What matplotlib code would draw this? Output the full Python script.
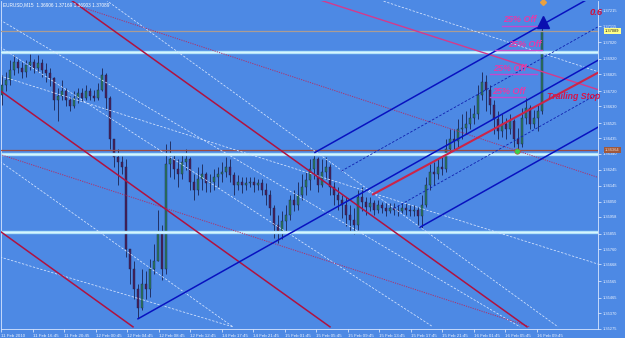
import matplotlib
matplotlib.use('Agg')
import matplotlib.pyplot as plt
import matplotlib.transforms as mtransforms
import numpy as np

# ---------------- data ----------------
first_open = 1.3670
closes = [1.3676, 1.3679, 1.3685, 1.3690, 1.3686, 1.3684, 1.3688, 1.3690, 1.3686, 1.3689,
          1.3685, 1.3683, 1.3680, 1.3667, 1.3669, 1.3672, 1.3667, 1.3663, 1.3668, 1.3671,
          1.3668, 1.3672, 1.3669, 1.3668, 1.3673, 1.3682, 1.3668, 1.3643, 1.3632, 1.3629,
          1.3626, 1.3576, 1.3564, 1.3552, 1.3540, 1.3555, 1.3552, 1.3564, 1.3569, 1.3585,
          1.3564, 1.3628, 1.3631, 1.3625, 1.3622, 1.3629, 1.3631, 1.3617, 1.3612, 1.3619,
          1.3622, 1.3616, 1.3617, 1.3620, 1.3622, 1.3623, 1.3626, 1.3621, 1.3615, 1.3617,
          1.3615, 1.3616, 1.3617, 1.3615, 1.3616, 1.3612, 1.3609, 1.3601, 1.3591, 1.3587,
          1.3593, 1.3597, 1.3606, 1.3603, 1.3609, 1.3614, 1.3618, 1.3625, 1.3631, 1.3615,
          1.3623, 1.3626, 1.3614, 1.3609, 1.3606, 1.3603, 1.3597, 1.3594, 1.3591, 1.3608,
          1.3605, 1.3602, 1.3604, 1.3600, 1.3603, 1.3601, 1.3599, 1.3601, 1.3600, 1.3599,
          1.3601, 1.3600, 1.3599, 1.3600, 1.3596, 1.3603, 1.3615, 1.3623, 1.3622, 1.3626,
          1.3625, 1.3637, 1.3643, 1.3642, 1.3649, 1.3650, 1.3652, 1.3656, 1.3658, 1.3670,
          1.3678, 1.3673, 1.3664, 1.3655, 1.3648, 1.3652, 1.3649, 1.3654, 1.3643, 1.3640,
          1.3656, 1.3662, 1.3652, 1.3656, 1.3660, 1.3709]
highs = [1.3682, 1.3684, 1.3691, 1.3694, 1.3692, 1.3690, 1.3691, 1.3695, 1.3692, 1.3694,
         1.3692, 1.3689, 1.3686, 1.3681, 1.3674, 1.3679, 1.3674, 1.3669, 1.3672, 1.3674,
         1.3674, 1.3676, 1.3674, 1.3673, 1.3677, 1.3686, 1.3683, 1.3669, 1.3643, 1.3637,
         1.3633, 1.3631, 1.3576, 1.3569, 1.3555, 1.3564, 1.3563, 1.3570, 1.3579, 1.3600,
         1.3591, 1.3640, 1.3642, 1.3634, 1.3631, 1.3634, 1.3637, 1.3632, 1.3622, 1.3626,
         1.3628, 1.3623, 1.3622, 1.3625, 1.3626, 1.3629, 1.3632, 1.3631, 1.3623, 1.3621,
         1.3620, 1.3620, 1.3620, 1.3620, 1.3619, 1.3619, 1.3616, 1.3612, 1.3603, 1.3597,
         1.3599, 1.3603, 1.3609, 1.3612, 1.3617, 1.3622, 1.3623, 1.3631, 1.3635, 1.3632,
         1.3631, 1.3632, 1.3628, 1.3617, 1.3614, 1.3609, 1.3608, 1.3603, 1.3601, 1.3612,
         1.3614, 1.3608, 1.3608, 1.3606, 1.3606, 1.3605, 1.3604, 1.3604, 1.3604, 1.3603,
         1.3604, 1.3604, 1.3603, 1.3603, 1.3602, 1.3609, 1.3620, 1.3628, 1.3629, 1.3631,
         1.3632, 1.3643, 1.3649, 1.3649, 1.3655, 1.3658, 1.3660, 1.3662, 1.3664, 1.3676,
         1.3684, 1.3682, 1.3676, 1.3667, 1.3660, 1.3658, 1.3656, 1.3658, 1.3655, 1.3650,
         1.3662, 1.3668, 1.3664, 1.3661, 1.3664, 1.3712]
lows = [1.3664, 1.3672, 1.3676, 1.3682, 1.3683, 1.3680, 1.3681, 1.3685, 1.3683, 1.3684,
        1.3681, 1.3678, 1.3675, 1.3661, 1.3654, 1.3667, 1.3663, 1.3660, 1.3662, 1.3665,
        1.3666, 1.3667, 1.3667, 1.3666, 1.3667, 1.3672, 1.3661, 1.3637, 1.3626, 1.3615,
        1.3622, 1.3571, 1.3555, 1.3546, 1.3534, 1.3539, 1.3546, 1.3547, 1.3561, 1.3569,
        1.3557, 1.3561, 1.3620, 1.3619, 1.3614, 1.3619, 1.3624, 1.3612, 1.3606, 1.3609,
        1.3612, 1.3611, 1.3611, 1.3612, 1.3614, 1.3617, 1.3620, 1.3617, 1.3609, 1.3612,
        1.3610, 1.3612, 1.3614, 1.3611, 1.3612, 1.3609, 1.3603, 1.3597, 1.3583, 1.3580,
        1.3582, 1.3587, 1.3594, 1.3599, 1.3600, 1.3606, 1.3609, 1.3612, 1.3619, 1.3611,
        1.3614, 1.3619, 1.3609, 1.3603, 1.3600, 1.3595, 1.3590, 1.3587, 1.3585, 1.3588,
        1.3599, 1.3597, 1.3599, 1.3597, 1.3598, 1.3598, 1.3596, 1.3598, 1.3597, 1.3596,
        1.3598, 1.3597, 1.3596, 1.3596, 1.3591, 1.3589, 1.3602, 1.3612, 1.3615, 1.3619,
        1.3621, 1.3623, 1.3634, 1.3637, 1.3638, 1.3643, 1.3646, 1.3649, 1.3652, 1.3655,
        1.3667, 1.3660, 1.3658, 1.3646, 1.3643, 1.3644, 1.3643, 1.3646, 1.3638, 1.3636,
        1.3638, 1.3652, 1.3649, 1.3650, 1.3648, 1.3658]

time_tick_pos = [-0.25, 7.625, 15.5, 23.375, 31.25, 39.125, 47.0, 54.875, 62.75, 70.625,
                 78.5, 86.375, 94.25, 102.125, 110.0, 117.875, 125.75, 133.625]
time_tick_labels = ["11 Feb 2010", "11 Feb 16:45", "11 Feb 20:45", "12 Feb 00:45",
                    "12 Feb 04:45", "12 Feb 08:45", "12 Feb 12:45", "14 Feb 17:45",
                    "14 Feb 21:45", "15 Feb 01:45", "15 Feb 05:45", "15 Feb 09:45",
                    "15 Feb 13:45", "15 Feb 17:45", "15 Feb 21:45", "16 Feb 01:45",
                    "16 Feb 05:45", "16 Feb 09:45"]
price_ticks = [1.37215, 1.37115, 1.37020, 1.36920, 1.36825, 1.36720, 1.36630, 1.36525,
               1.36435, 1.36340, 1.36245, 1.36145, 1.36050, 1.35958, 1.35855, 1.35760,
               1.35668, 1.35565, 1.35465, 1.35370, 1.35275]
price_tick_labels = ["%.5f" % p for p in price_ticks]

header = "EURUSD,M15  1.36906 1.37169 1.36903 1.37089"
bid_price = 1.37089
level_price = 1.36364
support_levels = [1.36961, 1.36337, 1.35864]

# trend lines: ((t0, p0), (t1, p1))
red_lines = [((17.25, 1.37276), (131.25, 1.35288)),
             ((-0.5, 1.36725), (82.0, 1.35288)),
             ((-0.5, 1.35870), (32.75, 1.35288))]
pink_lines = [((79.5, 1.37276), (149.0, 1.36731))]
dotted_red_lines = [((18.25, 1.37246), (149.0, 1.36197)),
                    ((-0.5, 1.36337), (132.0, 1.35288))]
white_dashed_lines = [((26.0, 1.37276), (139.0, 1.35288)),
                      ((-0.5, 1.37155), (129.5, 1.35288)),
                      ((-0.5, 1.36991), (107.75, 1.35288)),
                      ((-0.5, 1.36815), (149.0, 1.35670)),
                      ((-0.5, 1.36294), (57.75, 1.35288)),
                      ((-0.5, 1.35713), (57.75, 1.35288)),
                      ((94.5, 1.37276), (149.0, 1.36840))]
trailing_stop = ((92.75, 1.36094), (149.0, 1.36834))

pf_time = [34.0, 78.25, 104.5]
pf_price = [1.35337, 1.36349, 1.35894]
pf_levels = [0.25, 0.75]

off_labels = ["25% Off", "25% Off", "25% Off", "25% Off"]
off_time = [125.25, 126.5, 122.75, 122.5]
off_price = [1.37155, 1.37003, 1.36858, 1.36719]
underline_t0 = [125.0, 123.25, 122.0, 122.0]
underline_t1 = [135.0, 135.0, 133.75, 130.75]
underline_price = [1.37118, 1.36973, 1.36828, 1.36688]

arrow_time, arrow_price = 135.25, 1.37143
top_mark_time, top_mark_price = 135.25, 1.37262
green_time, green_price = 128.75, 1.36355

# ---------------- drawing ----------------
BG = '#4d89e4'
W, H = 625, 338
fig = plt.figure(figsize=(W / 100, H / 100), dpi=100)
fig.patch.set_facecolor(BG)
ax = fig.add_axes([1 / W, 9 / H, 597 / W, 328 / H])
ax.set_facecolor(BG)
ax.set_xlim(-0.25, 149)
ax.set_ylim(1.35275, 1.37270)

n = len(closes)
idx = np.arange(n)
opens = np.array([first_open] + closes[:-1])
c = np.array(closes)
hi = np.maximum(np.array(highs), np.maximum(opens, c))
lo = np.minimum(np.array(lows), np.minimum(opens, c))
up = c >= opens
WICK = '#1a2350'
ax.vlines(idx, lo, hi, color=WICK, lw=0.6, zorder=3)
body_h = np.where(np.abs(c - opens) < 0.00003, 0.00003, c - opens)
ax.bar(idx[up], body_h[up], bottom=opens[up], width=0.55, color='#2c7a5c',
       edgecolor=WICK, lw=0.3, zorder=4)
ax.bar(idx[~up], body_h[~up], bottom=opens[~up], width=0.55, color='#482058',
       edgecolor=WICK, lw=0.3, zorder=4)

# horizontal levels
for p in support_levels:
    ax.axhline(p, color='#a8e0f8', lw=2.4, zorder=5)
    ax.axhline(p, color='#d8f4ff', lw=1.0, zorder=5)
ax.axhline(bid_price, color='#ab9c94', lw=0.9, zorder=5)
ax.axhline(level_price, color='#9c4a40', lw=0.9, zorder=5)

def seg(line, **kw):
    (t0, p0), (t1, p1) = line
    ax.plot([t0, t1], [p0, p1], **kw)

for l in white_dashed_lines:
    seg(l, color='#d8e6ff', lw=0.55, dashes=(3, 2), zorder=5)
for l in dotted_red_lines:
    seg(l, color='#b03068', lw=0.7, dashes=(1.2, 1.2), zorder=5)
for l in red_lines:
    seg(l, color='#b01240', lw=1.1, zorder=6)
for l in pink_lines:
    seg(l, color='#d43a8c', lw=1.0, zorder=6)

# pitchfork
t0, t1, t2 = pf_time
p0, p1, p2 = pf_price
mt, mp = (t1 + t2) / 2, (p1 + p2) / 2
slope = (mp - p0) / (mt - t0)
tend = 149.0
for (ts, ps) in [(t0, p0), (t1, p1), (t2, p2)]:
    ax.plot([ts, tend], [ps, ps + slope * (tend - ts)], color='#0812c0', lw=1.1, zorder=6)
for f in pf_levels:
    ts = t1 + f * (t2 - t1)
    ps = p1 + f * (p2 - p1)
    ax.plot([ts, tend], [ps, ps + slope * (tend - ts)], color='#1020b0', lw=0.6,
            dashes=(3, 2), zorder=6)

seg(trailing_stop, color='#cc2448', lw=1.5, zorder=7)

# annotations
for s, t, p in zip(off_labels, off_time, off_price):
    ax.text(t, p, s, color='#e63aa8', fontsize=6.5, fontweight='bold', style='italic',
            family='Liberation Sans', ha='left', va='center', zorder=8)
for a, b, p in zip(underline_t0, underline_t1, underline_price):
    ax.plot([a, b], [p, p], color='#c548cc', lw=1.0, zorder=8)
ax.text(136.25, 1.36688, "Trailing Stop", color='#d4144a', fontsize=6.3, fontweight='bold',
        style='italic', family='Liberation Sans', ha='left', va='center', zorder=8)
ax.text(147.0, 1.37203, "0.6", color='#d0103c', fontsize=6.8, fontweight='bold',
        style='italic', family='Liberation Sans', ha='left', va='center', zorder=8)
ax.plot([arrow_time], [arrow_price], marker='^', ms=8, color='#0a10b0', zorder=9)
ax.plot([top_mark_time], [top_mark_price], marker='D', ms=3, color='#e8a040', zorder=9,
        clip_on=False)
ax.plot([green_time], [green_price], marker='o', ms=4, color='#3ad048', mec='#d04040',
        mew=0.4, zorder=9)

# axes styling
ax.spines['top'].set_visible(False)
for side in ['left', 'right', 'bottom']:
    ax.spines[side].set_color('#d8e6ff')
    ax.spines[side].set_linewidth(0.6)
ax.yaxis.tick_right()
ax.set_yticks(price_ticks)
ax.set_yticklabels(price_tick_labels)
ax.tick_params(axis='y', colors='#eef4ff', labelsize=2.9, length=2, width=0.5, pad=1.5)
ax.set_xticks(time_tick_pos)
ax.set_xticklabels(time_tick_labels)
ax.tick_params(axis='x', colors='#eef4ff', labelsize=3.2, length=2.5, width=0.5, pad=0.8)
for lbl in ax.get_xticklabels() + ax.get_yticklabels():
    lbl.set_family('Liberation Sans')
for lbl in ax.get_xticklabels():
    lbl.set_ha('left')

trans = mtransforms.blended_transform_factory(ax.transAxes, ax.transData)
ax.text(1.012, bid_price, "%.5f" % bid_price, transform=trans, fontsize=2.9, va='center',
        ha='left', color='#202020', family='Liberation Sans',
        bbox=dict(boxstyle='square,pad=0.25', fc='#ffff88', ec='none'), zorder=10, clip_on=False)
ax.text(1.012, level_price, "%.5f" % level_price, transform=trans, fontsize=2.9, va='center',
        ha='left', color='#f2d8c8', family='Liberation Sans',
        bbox=dict(boxstyle='square,pad=0.25', fc='#a0583c', ec='none'), zorder=10, clip_on=False)

fig.text(3 / W, 1 - 2 / H, header, color='white', fontsize=3.4, va='top', ha='left',
         family='Liberation Sans')

fig.savefig('out.png', dpi=100, facecolor=BG)
